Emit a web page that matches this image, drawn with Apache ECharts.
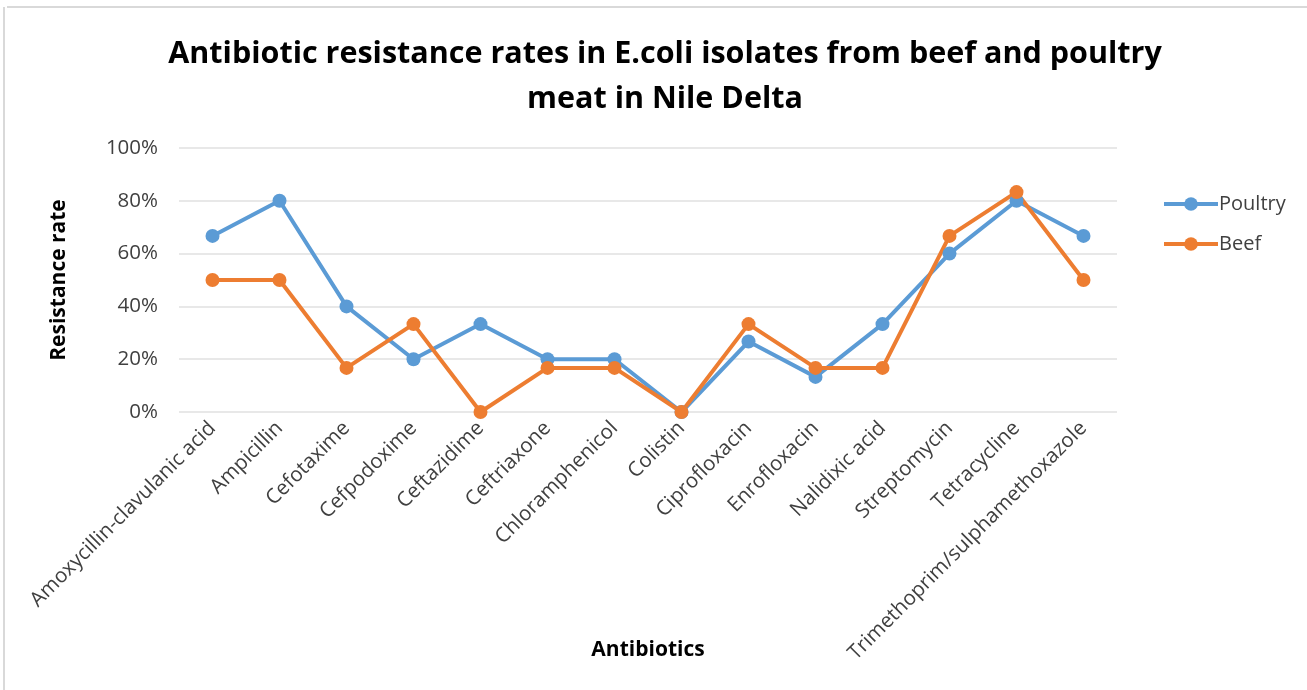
<!DOCTYPE html>
<html>
<head>
<meta charset="utf-8">
<script src="https://cdn.jsdelivr.net/npm/echarts@6/dist/echarts.min.js"></script>
<style>
  html, body { margin: 0; padding: 0; background: #fff; }
  #chart { width: 1307px; height: 690px; }
</style>
</head>
<body>
<div id="chart"></div>
<script>
// Antibiotics tested
const antibiotics = [
  'Amoxycillin-clavulanic acid', 'Ampicillin', 'Cefotaxime', 'Cefpodoxime',
  'Ceftazidime', 'Ceftriaxone', 'Chloramphenicol', 'Colistin', 'Ciprofloxacin',
  'Enrofloxacin', 'Nalidixic acid', 'Streptomycin', 'Tetracycline',
  'Trimethoprim/sulphamethoxazole'
];
// Resistance rates (%)
const poultry = [66.7, 80, 40, 20, 33.3, 20, 20, 0, 26.7, 13.3, 33.3, 60, 80, 66.7];
const beef = [50, 50, 16.7, 33.3, 0, 16.7, 16.7, 0, 33.3, 16.7, 16.7, 66.7, 83.3, 50];
const yTicks = [0, 20, 40, 60, 80, 100];

const FONT = '"Open Sans", "Liberation Sans", sans-serif';
const chart = echarts.init(document.getElementById('chart'), null, { renderer: 'canvas' });

chart.setOption({
  backgroundColor: '#fff',
  animation: false,
  title: {
    text: 'Antibiotic resistance rates in E.coli isolates from beef and poultry\nmeat in Nile Delta',
    left: 660,
    top: 27,
    textAlign: 'center',
    textStyle: { fontFamily: FONT, fontSize: 30.5, fontWeight: 'bold', color: '#000', lineHeight: 45 }
  },
  legend: {
    orient: 'vertical',
    left: 1157,
    top: 189,
    itemGap: 20,
    itemWidth: 54,
    itemHeight: 17,
    data: ['Poultry', 'Beef'],
    lineStyle: { width: 4 },
    textStyle: { fontFamily: FONT, fontSize: 20, color: '#404040', padding: [0, 0, 0, -4] }
  },
  grid: { left: 179, right: 190, top: 148, bottom: 278 },
  xAxis: {
    type: 'category',
    data: antibiotics,
    boundaryGap: true,
    name: 'Antibiotics',
    nameLocation: 'middle',
    nameGap: 228,
    nameMoveOverlap: false,
    nameTextStyle: { fontFamily: FONT, fontSize: 21, fontWeight: 'bold', color: '#000' },
    axisLine: { show: false },
    axisTick: { show: false },
    axisLabel: {
      interval: 0, rotate: 45, margin: 13,
      fontFamily: FONT, fontSize: 20.5, color: '#404040'
    }
  },
  yAxis: {
    type: 'value',
    min: yTicks[0],
    max: yTicks[yTicks.length - 1],
    interval: 20,
    name: 'Resistance rate',
    nameLocation: 'middle',
    nameGap: 109,
    nameMoveOverlap: false,
    nameRotate: 90,
    nameTextStyle: { fontFamily: FONT, fontSize: 21, fontWeight: 'bold', color: '#000' },
    axisLine: { show: false },
    axisTick: { show: false },
    axisLabel: { formatter: '{value}%', margin: 21, fontFamily: FONT, fontSize: 20.5, color: '#404040' },
    splitLine: { lineStyle: { color: '#e0e0e0', width: 1.5 } }
  },
  series: [
    {
      name: 'Poultry', type: 'line', data: poultry,
      symbol: 'circle', symbolSize: 14,
      lineStyle: { color: '#5b9bd5', width: 4 },
      itemStyle: { color: '#5b9bd5' }
    },
    {
      name: 'Beef', type: 'line', data: beef,
      symbol: 'circle', symbolSize: 14,
      lineStyle: { color: '#ed7d31', width: 4 },
      itemStyle: { color: '#ed7d31' }
    }
  ],
  graphic: [
    { type: 'line', shape: { x1: 7, y1: 7, x2: 1307, y2: 7 }, style: { stroke: '#d9d9d9', lineWidth: 2 } },
    { type: 'line', shape: { x1: 4, y1: 7, x2: 4, y2: 690 }, style: { stroke: '#d9d9d9', lineWidth: 2 } }
  ]
});
</script>
</body>
</html>
